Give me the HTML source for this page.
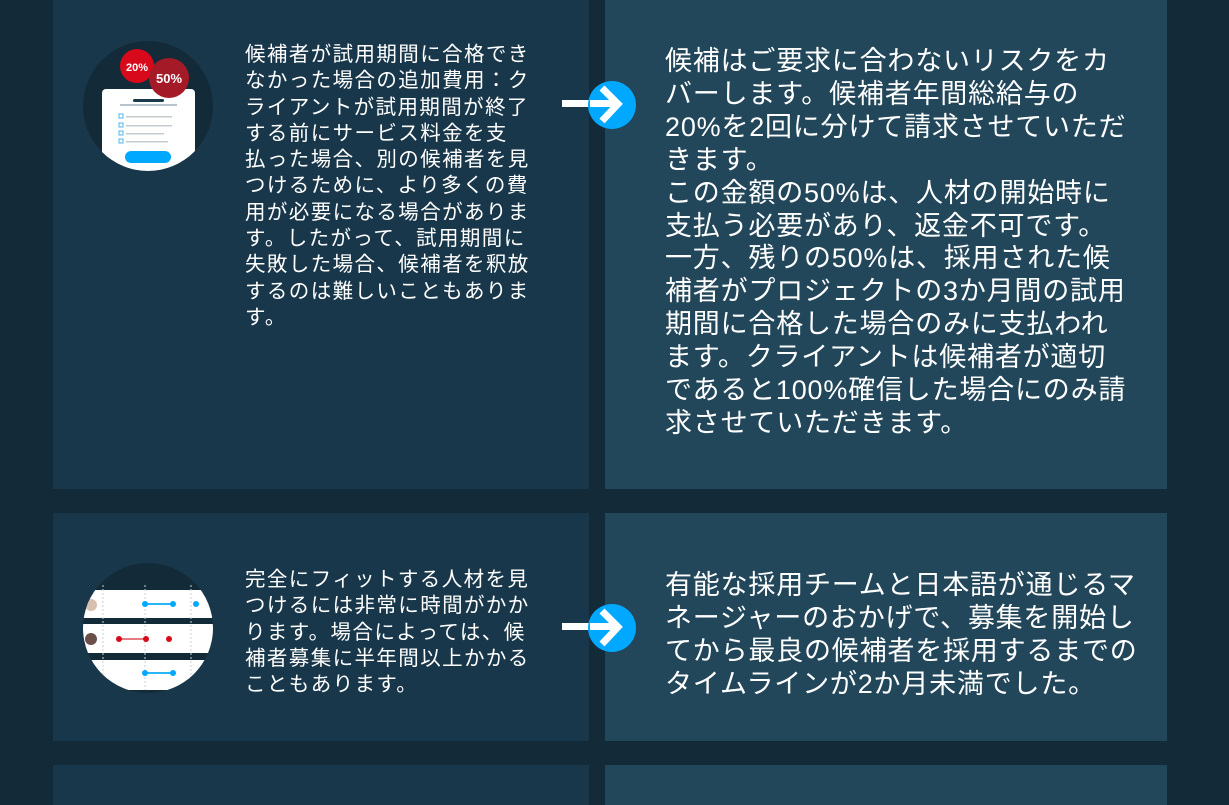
<!DOCTYPE html>
<html><head><meta charset="utf-8"><style>
body{margin:0;width:1229px;height:800px;background:#132a38;position:relative;overflow:hidden;font-family:"Liberation Sans","Noto Sans CJK JP",sans-serif;color:#fff}
.p{position:absolute}
.l{background:#19374a}
.r{background:#22465a}
.lt{position:absolute;left:245px;font-size:20.5px;line-height:26.3px;letter-spacing:1.4px;white-space:nowrap}
.rt{position:absolute;left:665px;font-size:27px;line-height:32.9px;letter-spacing:0.8px;white-space:nowrap}
</style></head><body>
<div class="p l" style="left:53px;top:0;width:536px;height:489px"></div>
<div class="p r" style="left:605px;top:0;width:562px;height:489px"></div>
<div class="p l" style="left:53px;top:513px;width:536px;height:228px"></div>
<div class="p r" style="left:605px;top:513px;width:562px;height:228px"></div>
<div class="p l" style="left:53px;top:765px;width:536px;height:40px"></div>
<div class="p r" style="left:605px;top:765px;width:562px;height:40px"></div>

<svg class="p" style="left:70px;top:30px" width="160" height="160">
<defs><clipPath id="c1"><circle cx="78" cy="76" r="65"/></clipPath></defs>
<circle cx="78" cy="76" r="65" fill="#132a38"/>
<g clip-path="url(#c1)">
<rect x="32" y="59" width="93" height="100" rx="4" fill="#fff"/>
<rect x="63" y="69" width="31" height="3" rx="1.5" fill="#1a3a4c"/>
<rect x="50" y="74" width="57" height="2" fill="#b9c4cc"/>
<g fill="#c4ccd2"><rect x="56" y="86" width="46" height="1.5"/><rect x="56" y="95" width="46" height="1.5"/><rect x="56" y="103" width="38" height="1.5"/><rect x="56" y="111" width="42" height="1.5"/></g>
<g fill="none" stroke="#4fb5ea"><rect x="49" y="84" width="4" height="4"/><rect x="49" y="93" width="4" height="4"/><rect x="49" y="101" width="4" height="4"/><rect x="49" y="109" width="4" height="4"/></g>
<rect x="55" y="121" width="46" height="12" rx="6" fill="#00a8ff"/>
</g>
<circle cx="67" cy="36" r="17" fill="#d9091c"/>
<text x="67" y="41" font-size="11" font-weight="bold" fill="#fff" text-anchor="middle" font-family="Liberation Sans">20%</text>
<circle cx="99" cy="48" r="20" fill="#a51a27"/>
<text x="99" y="53" font-size="13" font-weight="bold" fill="#fff" text-anchor="middle" font-family="Liberation Sans">50%</text>
</svg>

<svg class="p" style="left:70px;top:550px" width="160" height="160">
<defs><clipPath id="c2"><circle cx="78" cy="78" r="65"/></clipPath></defs>
<circle cx="78" cy="78" r="65" fill="#132a38"/>
<g clip-path="url(#c2)">
<rect x="0" y="40" width="160" height="28" fill="#fff"/>
<rect x="0" y="74" width="160" height="29" fill="#fff"/>
<rect x="0" y="110" width="160" height="30" fill="#fff"/>
<g stroke="#c9d0d5" stroke-dasharray="2 2"><line x1="33" y1="35" x2="33" y2="140"/><line x1="75" y1="35" x2="75" y2="140"/><line x1="121" y1="35" x2="121" y2="140"/></g>
<line x1="75" y1="54" x2="103" y2="54" stroke="#29b6f6" stroke-width="2"/><circle cx="75" cy="54" r="3" fill="#00a8ff"/><circle cx="103" cy="54" r="3" fill="#00a8ff"/><circle cx="126" cy="54" r="3" fill="#00a8ff"/>
<line x1="49" y1="89" x2="76" y2="89" stroke="#e57b84" stroke-width="2"/><circle cx="49" cy="89" r="3" fill="#d9091c"/><circle cx="76" cy="89" r="3" fill="#d9091c"/><circle cx="99" cy="89" r="3" fill="#d9091c"/>
<line x1="75" y1="123" x2="103" y2="123" stroke="#29b6f6" stroke-width="2"/><circle cx="75" cy="123" r="3" fill="#00a8ff"/><circle cx="103" cy="123" r="3" fill="#00a8ff"/>
<circle cx="21" cy="55" r="6" fill="#d8c0b0"/><circle cx="21" cy="89" r="6" fill="#6a5048"/>
</g>
</svg>

<svg class="p" style="left:560px;top:80px" width="80" height="52">
<rect x="2" y="20" width="60" height="7" fill="#fff"/>
<circle cx="52" cy="25" r="24" fill="#00a8ff"/>
<path d="M42 8 L58 24 L42 41" fill="none" stroke="#fff" stroke-width="7"/>
<rect x="30" y="20" width="28" height="7" fill="#fff"/>
</svg>
<svg class="p" style="left:560px;top:603px" width="80" height="52">
<rect x="2" y="20" width="60" height="7" fill="#fff"/>
<circle cx="52" cy="25" r="24" fill="#00a8ff"/>
<path d="M42 8 L58 24 L42 41" fill="none" stroke="#fff" stroke-width="7"/>
<rect x="30" y="20" width="28" height="7" fill="#fff"/>
</svg>

<div class="lt" style="top:42px">候補者が試用期間に合格でき<br>なかった場合の追加費用：ク<br>ライアントが試用期間が終了<br>する前にサービス料金を支<br>払った場合、別の候補者を見<br>つけるために、より多くの費<br>用が必要になる場合がありま<br>す。したがって、試用期間に<br>失敗した場合、候補者を釈放<br>するのは難しいこともありま<br>す。</div>
<div class="rt" style="top:45px">候補はご要求に合わないリスクをカ<br>バーします。候補者年間総給与の<br>20%を2回に分けて請求させていただ<br>きます。<br>この金額の50%は、人材の開始時に<br>支払う必要があり、返金不可です。<br>一方、残りの50%は、採用された候<br>補者がプロジェクトの3か月間の試用<br>期間に合格した場合のみに支払われ<br>ます。クライアントは候補者が適切<br>であると100%確信した場合にのみ請<br>求させていただきます。</div>
<div class="lt" style="top:567px">完全にフィットする人材を見<br>つけるには非常に時間がかか<br>ります。場合によっては、候<br>補者募集に半年間以上かかる<br>こともあります。</div>
<div class="rt" style="top:569px">有能な採用チームと日本語が通じるマ<br>ネージャーのおかげで、募集を開始し<br>てから最良の候補者を採用するまでの<br>タイムラインが2か月未満でした。</div>
</body></html>
